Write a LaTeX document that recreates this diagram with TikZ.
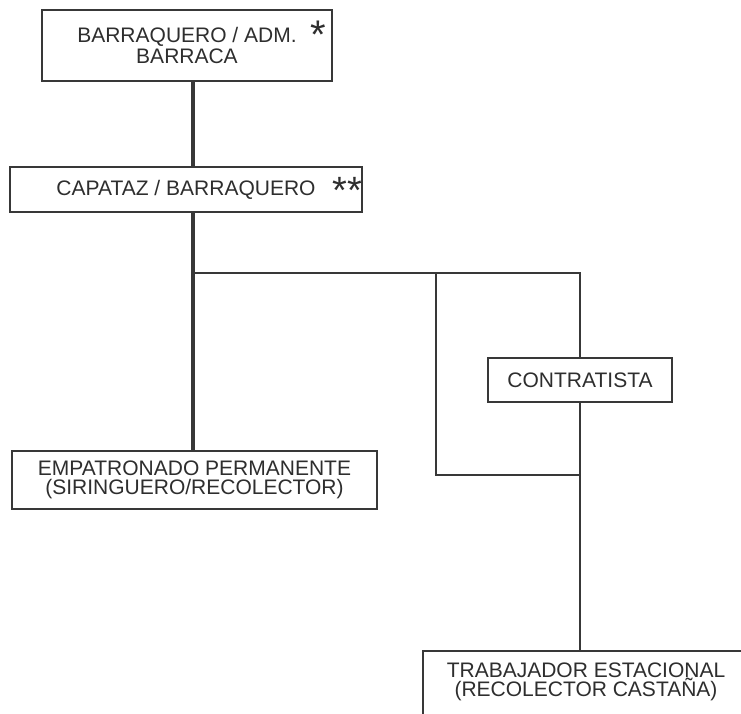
\documentclass[tikz,border=0pt]{standalone}
\usepackage{fontspec}
\setmainfont{Liberation Sans}
\definecolor{inkgray}{HTML}{2E2E2E}
\definecolor{linegray}{HTML}{383838}
\newcommand{\labelfont}{\fontsize{21}{19}\selectfont}
\begin{document}
\begin{tikzpicture}[x=1pt,y=-1pt,
  box/.style={draw=linegray, line width=1.5pt, rectangle, inner sep=0pt,
    align=center, font=\labelfont, text=inkgray},
  thickline/.style={draw=linegray, line width=4pt},
  thinline/.style={draw=linegray, line width=1.3pt, line join=miter},
  starmark/.style={anchor=base, inner sep=0pt, text=inkgray}]
\useasboundingbox (0,0) rectangle (741,714);
\clip (0,0) rectangle (741,714);
\fill[white] (0,0) rectangle (741,714);

% hierarchy boxes
\node[box, minimum width=290pt, minimum height=71pt,
      font=\fontsize{21}{21}\selectfont] (top) at (187,45.5)
  {BARRAQUERO / ADM.\\BARRACA};
\node[box, minimum width=352pt, minimum height=45pt] (capataz) at (186,189.5)
  {CAPATAZ / BARRAQUERO};
\node[box, minimum width=365pt, minimum height=58pt] (empat) at (194.5,480)
  {EMPATRONADO PERMANENTE\\(SIRINGUERO/RECOLECTOR)};
\node[box, minimum width=184pt, minimum height=44pt] (contr) at (580,380)
  {CONTRATISTA};
\node[box, minimum width=326pt, inner ysep=12.5pt, anchor=north] (trab) at (586,650)
  {TRABAJADOR ESTACIONAL\\(RECOLECTOR CASTAÑA)\\\strut};

% footnote marks
\node[starmark, font=\fontsize{40}{40}\selectfont] (markone) at (318,48.8) {*};
\node[starmark, font=\fontsize{38}{38}\selectfont] (marktwo) at (347.5,204) {**};

% main chain of command
\coordinate (spine) at (193,0);
\draw[thickline] (spine |- top.south) -- (spine |- capataz.north);
\draw[thickline] (spine |- capataz.south) -- (spine |- empat.north);

% branch towards the contractor and the seasonal worker
\coordinate (j) at (193,273);
\coordinate (bypassTop) at (436,273);
\coordinate (bypassBot) at (436,475);
\draw[thinline] (j) -- (j -| contr.north) -- (contr.north);
\draw[thinline] (contr.south) -- (contr.south |- trab.north);
\draw[thinline] (bypassTop) -- (bypassBot) -- (bypassBot -| contr.south);
\end{tikzpicture}
\end{document}
